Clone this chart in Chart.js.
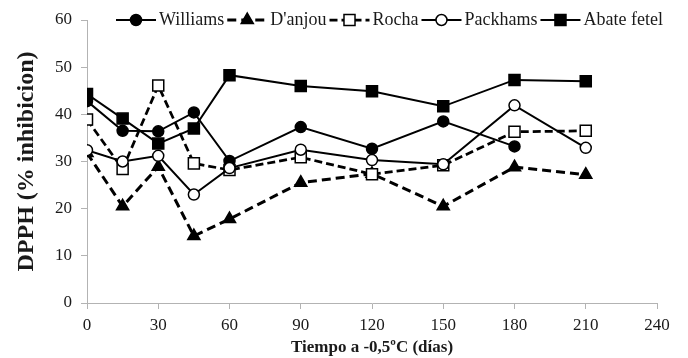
<!DOCTYPE html>
<html>
<head>
<meta charset="utf-8">
<script src="https://cdn.jsdelivr.net/npm/chart.js@4.4.1/dist/chart.umd.min.js"></script>
<style>
  html, body { margin: 0; padding: 0; background: #fff; }
  #wrap { width: 688px; height: 358px; }
</style>
</head>
<body>
<div id="wrap"><canvas id="chart" width="688" height="358"></canvas></div>
<script>
// days of storage at -0.5 C
const days = [0, 15, 30, 45, 60, 90, 120, 150, 180, 210];

const williams = [42.8, 36.5, 36.4, 40.4, 30.1, 37.3, 32.7, 38.5, 33.2, null];
const danjou   = [31.8, 20.5, 28.9, 14.2, 17.8, 25.5, 27.4, 20.5, 28.8, 27.2];
const rocha    = [38.9, 28.4, 46.1, 29.6, 28.2, 30.9, 27.3, 29.2, 36.3, 36.5];
const packhams = [32.4, 30.0, 31.2, 23.0, 28.6, 32.5, 30.3, 29.4, 41.9, 32.9];
const abate    = [44.3, 39.1, 33.8, 37.0, 48.3, 46.0, 44.9, 41.7, 47.3, 47.0];

const xTicks = [0, 30, 60, 90, 120, 150, 180, 210, 240];
const yTicks = [0, 10, 20, 30, 40, 50, 60];

const axisGray = '#b3b3b3';
const textCol = '#1a1a1a';

Chart.defaults.font.family = '"Liberation Serif", "Times New Roman", serif';
Chart.defaults.color = textCol;

function series(label, values, opts) {
  return Object.assign({
    label: label,
    data: days.map((d, i) => ({ x: d, y: values[i] })),
    borderColor: '#000',
    borderWidth: 2,
    pointBorderColor: '#000',
    pointBorderWidth: 1.5,
    tension: 0,
    fill: false,
    spanGaps: false
  }, opts);
}

// legend drawn as line + marker like the original figure
const lineLegend = {
  id: 'lineLegend',
  afterDraw(chart) {
    const ctx = chart.ctx;
    const y = 20;
    let x = 116;
    ctx.save();
    ctx.font = '18px "Liberation Serif", serif';
    ctx.textBaseline = 'middle';
    chart.data.datasets.forEach(ds => {
      ctx.strokeStyle = '#000';
      ctx.lineWidth = ds.borderWidth;
      ctx.setLineDash(ds.borderDash || []);
      ctx.beginPath();
      ctx.moveTo(x, y);
      ctx.lineTo(x + 40, y);
      ctx.stroke();
      ctx.setLineDash([]);
      ctx.fillStyle = ds.pointBackgroundColor;
      ctx.lineWidth = ds.pointBorderWidth;
      Chart.helpers.drawPoint(ctx, {
        pointStyle: ds.pointStyle,
        radius: ds.pointRadius,
        rotation: 0,
        borderWidth: ds.pointBorderWidth
      }, x + 20, y);
      ctx.fillStyle = textCol;
      ctx.fillText(ds.label, x + 43, y);
      x += 43 + ctx.measureText(ds.label).width + 3;
    });
    ctx.restore();
  }
};

new Chart(document.getElementById('chart'), {
  type: 'line',
  data: {
    datasets: [
      series('Williams', williams, {
        pointStyle: 'circle', pointRadius: 5.5, pointBackgroundColor: '#000', order: 5
      }),
      series("D'anjou", danjou, {
        borderWidth: 3, borderDash: [9, 5],
        pointStyle: 'triangle', pointRadius: 7, pointBackgroundColor: '#000', order: 4
      }),
      series('Rocha', rocha, {
        borderWidth: 2.75, borderDash: [8, 4],
        pointStyle: 'rect', pointRadius: 7.8, pointBackgroundColor: '#fff', order: 3
      }),
      series('Packhams', packhams, {
        pointStyle: 'circle', pointRadius: 5.5, pointBackgroundColor: '#fff', order: 2
      }),
      series('Abate fetel', abate, {
        pointStyle: 'rect', pointRadius: 7.8, pointBackgroundColor: '#000', order: 1
      })
    ]
  },
  options: {
    responsive: false,
    animation: false,
    layout: { padding: { top: 20, right: 31, left: 0, bottom: 0 } },
    plugins: {
      legend: { display: false },
      tooltip: { enabled: false }
    },
    scales: {
      x: {
        type: 'linear',
        min: 0,
        max: 240,
        afterBuildTicks: s => { s.ticks = xTicks.map(v => ({ value: v })); },
        afterFit: s => { s.height = 55; },
        ticks: { font: { size: 17 }, padding: 6, color: textCol },
        grid: { drawOnChartArea: false, drawTicks: true, tickLength: 6, color: axisGray },
        border: { color: axisGray, width: 1 },
        title: {
          display: true,
          text: 'Tiempo a -0,5ºC (días)',
          font: { size: 17, weight: 'bold' },
          color: textCol,
          padding: 0
        }
      },
      y: {
        min: 0,
        max: 60,
        afterBuildTicks: s => { s.ticks = yTicks.map(v => ({ value: v })); },
        afterFit: s => { s.width = 87; },
        ticks: { font: { size: 17 }, padding: 9, color: textCol },
        grid: { drawOnChartArea: false, drawTicks: true, tickLength: 6, color: axisGray },
        border: { color: axisGray, width: 1 },
        title: {
          display: true,
          text: 'DPPH (% inhibicion)',
          font: { size: 24, weight: 'bold' },
          color: textCol,
          padding: { top: 12, bottom: 0 }
        }
      }
    }
  },
  plugins: [lineLegend]
});
</script>
</body>
</html>
